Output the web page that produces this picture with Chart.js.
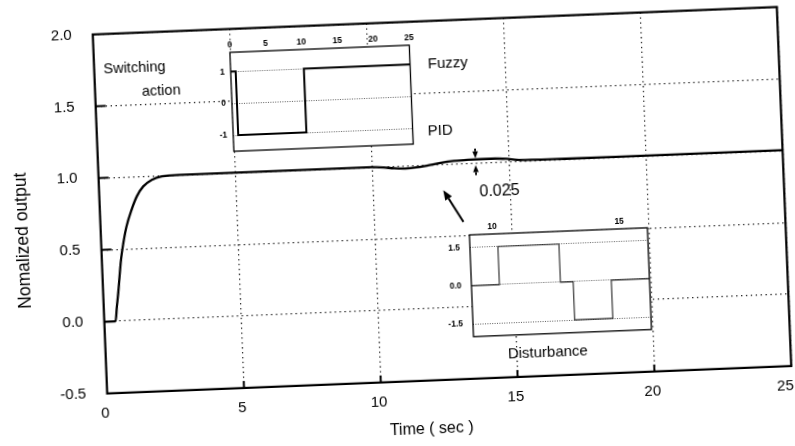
<!DOCTYPE html>
<html>
<head>
<meta charset="utf-8">
<script src="https://cdn.jsdelivr.net/npm/chart.js@4.4.1/dist/chart.umd.min.js"></script>
<style>
  html, body { margin: 0; padding: 0; background: #fff; overflow: hidden; }
  #stage { position: relative; width: 795px; height: 446px; transform: rotate(-2.3deg); transform-origin: 442px 200px; }
  #stage canvas { position: absolute; }
</style>
</head>
<body>
<div id="stage">
  <canvas id="main" width="795" height="446" style="left:0;top:0;width:795px;height:446px"></canvas>
  <canvas id="switching" width="202" height="121" style="left:220px;top:27.6px;width:202px;height:121px"></canvas>
  <canvas id="disturbance" width="212" height="124" style="left:439.7px;top:220.4px;width:212px;height:124px"></canvas>
</div>
<script>
// Step response of the controlled plant
const timeSec = [0, 0.41, 0.48, 0.55, 0.7, 0.81, 0.95, 1.16, 1.37, 1.62, 1.94, 2.31, 2.92, 5, 10, 10.4, 10.8, 11.2, 11.6, 12, 12.5, 13, 13.5, 14, 14.5, 14.9, 15.3, 15.8, 17, 20, 25];
const output  = [0, 0, 0.1, 0.195, 0.426, 0.541, 0.656, 0.771, 0.862, 0.93, 0.973, 0.994, 1.0, 1.0, 1.0, 0.995, 0.985, 0.981, 0.985, 0.995, 1.01, 1.02, 1.024, 1.025, 1.025, 1.02, 1.01, 1.006, 1.004, 1.003, 1.003];
const mainXTicks = [0, 5, 10, 15, 20, 25];
const mainYTicks = [-0.5, 0, 0.5, 1.0, 1.5, 2.0];

// Switching action between the PID (-1) and fuzzy (+1) controllers
const switchTime   = [0, 0.7, 0.7, 10.2, 10.2, 25];
const switchAction = [1, 1, -1, -1, 1, 1];
const switchXTicks = [0, 5, 10, 15, 20, 25];
const switchYTicks = [-1, 0, 1];

// Load disturbance applied to the plant
const distTime   = [9.1, 10.2, 10.2, 12.6, 12.6, 13.1, 13.1, 14.6, 14.6, 16.1];
const distValue  = [0, 0, 1.5, 1.5, 0, 0, -1.5, -1.5, 0, 0];
const distXTicks = [10, 15];
const distYTicks = [-1.5, 0, 1.5];

// Text notes and arrows placed in data units of the main plot
const noteLabels = [
  { text: 'Switching',   t: 0.34,  v: 1.755,  align: 'left',   size: 14.5 },
  { text: 'action',      t: 1.71,  v: 1.585,  align: 'left',   size: 14.5 },
  { text: 'Fuzzy',       t: 12.91, v: 1.696,  align: 'center', size: 15 },
  { text: 'PID',         t: 12.54, v: 1.23,   align: 'center', size: 15 },
  { text: '0.025',       t: 14.61, v: 0.796,  align: 'center', size: 16 },
  { text: 'Disturbance', t: 16.14, v: -0.339, align: 'center', size: 15 }
];
const noteArrows = [
  { from: [13.25, 0.594], to: [12.56, 0.82],  width: 2,   head: 10 },
  { from: [13.78, 1.10],  to: [13.78, 1.032], width: 1.8, head: 7 },
  { from: [13.78, 0.915], to: [13.78, 0.985], width: 1.8, head: 7 }
];

const FONT = '"Liberation Sans", Arial, sans-serif';

function fixedScale(size) {
  return s => {
    if (s.isHorizontal()) s.height = size; else s.width = size;
    s.paddingTop = s.paddingBottom = s.paddingLeft = s.paddingRight = 0;
  };
}
function fixedTicks(list) {
  return s => { s.ticks = list.map(v => ({ value: v })); };
}
function points(xs, ys) { return xs.map((x, i) => ({ x: x, y: ys[i] })); }

function drawArrow(ctx, x1, y1, x2, y2, width, head) {
  const ang = Math.atan2(y2 - y1, x2 - x1);
  const bx = x2 - head * Math.cos(ang), by = y2 - head * Math.sin(ang);
  ctx.lineWidth = width;
  ctx.beginPath(); ctx.moveTo(x1, y1); ctx.lineTo(bx, by); ctx.stroke();
  const hw = head * 0.4;
  ctx.beginPath();
  ctx.moveTo(x2, y2);
  ctx.lineTo(bx + hw * Math.sin(ang), by - hw * Math.cos(ang));
  ctx.lineTo(bx - hw * Math.sin(ang), by + hw * Math.cos(ang));
  ctx.closePath(); ctx.fill();
}

const mainDecor = {
  id: 'mainDecor',
  afterDraw(chart) {
    const { ctx, chartArea: a, scales: { x, y } } = chart;
    ctx.save();
    ctx.strokeStyle = '#000'; ctx.fillStyle = '#000';
    // inward tick marks
    ctx.lineWidth = 2;
    mainYTicks.forEach(v => {
      if (v <= y.min || v >= y.max) return;
      const py = y.getPixelForValue(v);
      ctx.beginPath(); ctx.moveTo(a.left, py); ctx.lineTo(a.left + 10, py); ctx.stroke();
    });
    mainXTicks.forEach(v => {
      if (v <= x.min || v >= x.max) return;
      const px = x.getPixelForValue(v);
      ctx.beginPath(); ctx.moveTo(px, a.bottom); ctx.lineTo(px, a.bottom - 7); ctx.stroke();
    });
    // frame
    ctx.lineWidth = 2.2;
    ctx.strokeRect(a.left, a.top, a.right - a.left, a.bottom - a.top);
    // notes
    ctx.textBaseline = 'middle';
    noteLabels.forEach(n => {
      ctx.font = n.size + 'px ' + FONT;
      ctx.textAlign = n.align;
      ctx.fillText(n.text, x.getPixelForValue(n.t), y.getPixelForValue(n.v));
    });
    noteArrows.forEach(r => {
      drawArrow(ctx, x.getPixelForValue(r.from[0]), y.getPixelForValue(r.from[1]),
                     x.getPixelForValue(r.to[0]), y.getPixelForValue(r.to[1]), r.width, r.head);
    });
    // axis titles
    ctx.textAlign = 'center';
    ctx.font = '16px ' + FONT;
    ctx.fillText('Time ( sec )', 422.6, 428.4);
    ctx.font = '17.5px ' + FONT;
    ctx.translate(21.7, 223.8);
    ctx.rotate(-Math.PI / 2);
    ctx.fillText('Nomalized output', 0, 0);
    ctx.restore();
  }
};

const insetDecor = {
  id: 'insetDecor',
  beforeDraw(chart) {
    const { ctx, chartArea: a } = chart;
    ctx.save(); ctx.fillStyle = '#fff';
    ctx.fillRect(a.left, a.top, a.right - a.left, a.bottom - a.top);
    ctx.restore();
  },
  afterDraw(chart) {
    const { ctx, chartArea: a } = chart;
    ctx.save(); ctx.strokeStyle = '#000'; ctx.lineWidth = 1.3;
    ctx.strokeRect(a.left, a.top, a.right - a.left, a.bottom - a.top);
    ctx.restore();
  }
};

// Main response plot
new Chart(document.getElementById('main'), {
  type: 'line',
  data: { datasets: [{
    data: points(timeSec, output),
    borderColor: '#000', borderWidth: 2.3, pointRadius: 0,
    cubicInterpolationMode: 'monotone', fill: false
  }] },
  options: {
    responsive: false, animation: false, devicePixelRatio: 1,
    layout: { padding: { left: 0, top: 20.6, right: 10.7, bottom: 0 } },
    plugins: { legend: { display: false }, tooltip: { enabled: false } },
    scales: {
      x: {
        type: 'linear', min: 0, max: 25,
        afterFit: fixedScale(66.1), afterBuildTicks: fixedTicks(mainXTicks),
        grid: { color: '#111', lineWidth: 1.2, drawTicks: false },
        border: { display: false, dash: [1.3, 3.6] },
        ticks: {
          color: '#000', padding: 10.5, autoSkip: false, maxRotation: 0, labelOffset: -2.5,
          font: { family: FONT, size: 15 },
          // the last label sits a little inside the frame corner
          callback: v => (v === 25 ? '25\u2007' : String(v))
        }
      },
      y: {
        type: 'linear', min: -0.5, max: 2.0,
        afterFit: fixedScale(99.7), afterBuildTicks: fixedTicks(mainYTicks),
        grid: { color: '#111', lineWidth: 1.2, drawTicks: false },
        border: { display: false, dash: [1.3, 3.6] },
        ticks: { color: '#000', padding: 21, font: { family: FONT, size: 15 }, callback: v => v.toFixed(1) }
      }
    }
  },
  plugins: [mainDecor]
});

function insetOptions(xMin, xMax, yMin, yMax, xTicks, yTicks, yWidth, padRight, padBottom, yFmt) {
  return {
    responsive: false, animation: false, devicePixelRatio: 1,
    layout: { padding: { left: 0, top: 0, right: padRight, bottom: padBottom } },
    plugins: { legend: { display: false }, tooltip: { enabled: false } },
    scales: {
      x: {
        type: 'linear', position: 'top', min: xMin, max: xMax,
        afterFit: fixedScale(16), afterBuildTicks: fixedTicks(xTicks),
        grid: { display: false, drawTicks: false },
        border: { display: false },
        ticks: { color: '#000', padding: 2.5, autoSkip: false, maxRotation: 0, font: { family: FONT, size: 8.5, weight: 'bold' } }
      },
      y: {
        type: 'linear', min: yMin, max: yMax,
        afterFit: fixedScale(yWidth), afterBuildTicks: fixedTicks(yTicks),
        grid: { color: '#333', lineWidth: 0.8, drawTicks: false },
        border: { display: false, dash: [1, 1.4] },
        ticks: { color: '#000', padding: yWidth === 16 ? 6 : 10, font: { family: FONT, size: 8.5, weight: 'bold' }, callback: yFmt }
      }
    }
  };
}

// Switching action inset
new Chart(document.getElementById('switching'), {
  type: 'line',
  data: { datasets: [{
    data: points(switchTime, switchAction),
    borderColor: '#000', borderWidth: 2, pointRadius: 0, tension: 0, fill: false
  }] },
  options: insetOptions(0, 25, -1.5, 1.6, switchXTicks, switchYTicks, 16, 6.5, 6, v => String(v)),
  plugins: [insetDecor]
});

// Disturbance inset
new Chart(document.getElementById('disturbance'), {
  type: 'line',
  data: { datasets: [{
    data: points(distTime, distValue),
    borderColor: '#222', borderWidth: 1.1, pointRadius: 0, tension: 0, fill: false
  }] },
  options: insetOptions(9.1, 16.1, -2, 2, distXTicks, distYTicks, 28, 5.9, 6.2, v => v.toFixed(1)),
  plugins: [insetDecor]
});
</script>
</body>
</html>
